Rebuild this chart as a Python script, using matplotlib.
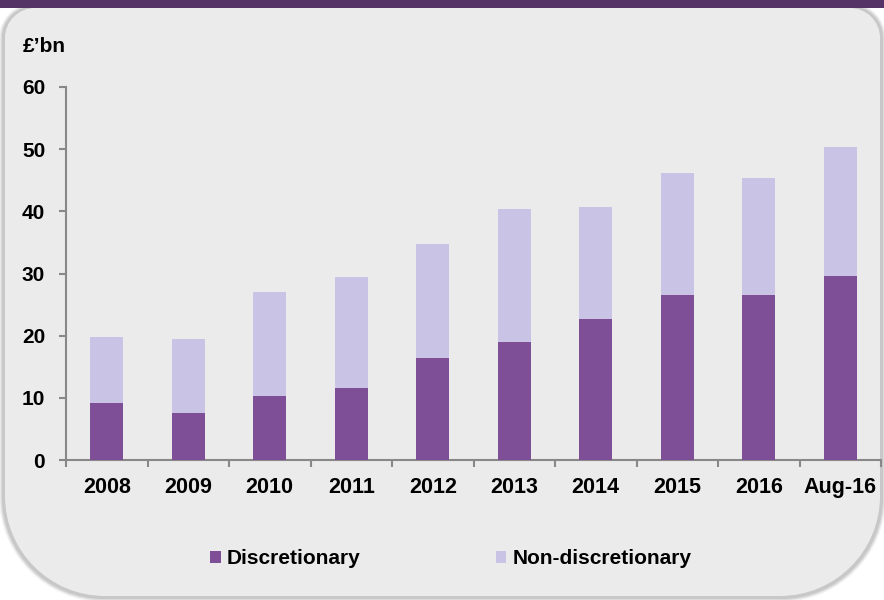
import matplotlib
matplotlib.use("Agg")
import matplotlib.pyplot as plt
from matplotlib.patches import Rectangle, PathPatch
from matplotlib.path import Path
import numpy as np

categories = ["2008", "2009", "2010", "2011", "2012", "2013", "2014", "2015", "2016", "Aug-16"]
discretionary = [9.1, 7.6, 10.3, 11.6, 16.4, 19.0, 22.7, 26.5, 26.6, 29.6]
non_discretionary_total = [19.8, 19.5, 27.1, 29.4, 34.7, 40.4, 40.7, 46.1, 45.4, 50.4]
non_discretionary = [t - d for t, d in zip(non_discretionary_total, discretionary)]
y_ticks = [0, 10, 20, 30, 40, 50, 60]
series_names = ["Discretionary", "Non-discretionary"]

C_DISC = "#7E4E96"
C_NON = "#C9C3E6"
BG = "#EBEBEB"
W, H = 884, 600

plt.rcParams["font.family"] = ["Liberation Sans", "DejaVu Sans"]
plt.rcParams["font.weight"] = "bold"

fig = plt.figure(figsize=(W / 100, H / 100), dpi=100)
fig.patch.set_facecolor("white")

# frame with rounded corners (pixel coordinates, origin bottom-left)
def frame_path(x0, y0, x1, y1, rb, rt):
    k = 0.5523
    verts = [
        (x0, y0 + rb),
        (x0, y1 - rt),
        (x0, y1 - rt + rt * k), (x0 + rt - rt * k, y1), (x0 + rt, y1),
        (x1 - rt, y1),
        (x1 - rt + rt * k, y1), (x1, y1 - rt + rt * k), (x1, y1 - rt),
        (x1, y0 + rb),
        (x1, y0 + rb - rb * k), (x1 - rb + rb * k, y0), (x1 - rb, y0),
        (x0 + rb, y0),
        (x0 + rb - rb * k, y0), (x0, y0 + rb - rb * k), (x0, y0 + rb),
        (x0, y0 + rb),
    ]
    codes = [Path.MOVETO, Path.LINETO,
             Path.CURVE4, Path.CURVE4, Path.CURVE4,
             Path.LINETO,
             Path.CURVE4, Path.CURVE4, Path.CURVE4,
             Path.LINETO,
             Path.CURVE4, Path.CURVE4, Path.CURVE4,
             Path.LINETO,
             Path.CURVE4, Path.CURVE4, Path.CURVE4,
             Path.CLOSEPOLY]
    return Path([(x / W, y / H) for x, y in verts], codes)

bg_ax = fig.add_axes([0, 0, 1, 1])
bg_ax.set_xlim(0, 1)
bg_ax.set_ylim(0, 1)
bg_ax.axis("off")
for lw, col in [(7, "#F2F2F2"), (5, "#DDDDDD"), (3, "#C8C8C8")]:
    bg_ax.add_patch(PathPatch(frame_path(4, 3, 881, 600 - 8, 100, 30), facecolor="none",
                              edgecolor=col, linewidth=lw, transform=bg_ax.transAxes))
bg_ax.add_patch(PathPatch(frame_path(5, 4, 880, 600 - 8, 100, 30), facecolor=BG,
                          edgecolor="none", transform=bg_ax.transAxes))
bg_ax.add_patch(Rectangle((0, 1 - 8 / H), 1, 8 / H, facecolor="#553366",
                          edgecolor="none", transform=bg_ax.transAxes))

ax = fig.add_axes([66 / W, (H - 460) / H, (881 - 66) / W, (460 - 87) / H])
ax.set_facecolor("none")
x = np.arange(len(categories))
width = 0.40
ax.bar(x, discretionary, width, color=C_DISC, label=series_names[0], zorder=3)
ax.bar(x, non_discretionary, width, bottom=discretionary, color=C_NON,
       label=series_names[1], zorder=3)

ax.set_xlim(-0.5, len(categories) - 0.5)
ax.set_ylim(0, 60)
ax.set_yticks(y_ticks)
ax.set_yticklabels([str(v) for v in y_ticks], fontsize=15, fontweight="bold")
ax.set_xticks(x)
ax.set_xticklabels(categories, fontsize=15.5, fontweight="bold")
ax.set_xticks(np.arange(-0.5, len(categories), 1.0), minor=True)
ax.tick_params(axis="x", which="major", length=0, pad=12)
ax.tick_params(axis="x", which="minor", length=5, width=1.5, color="#888888", direction="out")
ax.tick_params(axis="y", length=5, width=1.5, color="#888888", pad=10)
for s in ["top", "right"]:
    ax.spines[s].set_visible(False)
for s in ["left", "bottom"]:
    ax.spines[s].set_color("#888888")
    ax.spines[s].set_linewidth(1.5)

fig.text(23 / W, 1 - 47 / H, "£’bn", fontsize=15, fontweight="bold", va="center", ha="left")

handles = [Rectangle((0, 0), 1, 1, facecolor=C_DISC), Rectangle((0, 0), 1, 1, facecolor=C_NON)]
fig.legend(handles, series_names, loc="center", bbox_to_anchor=(451 / W, 1 - 559 / H),
           ncol=2, frameon=False, prop={"size": 15, "weight": "bold"},
           handlelength=0.5, handleheight=0.5, handletextpad=0.3, columnspacing=6.5)

fig.savefig("out.png", dpi=100, facecolor="white")
